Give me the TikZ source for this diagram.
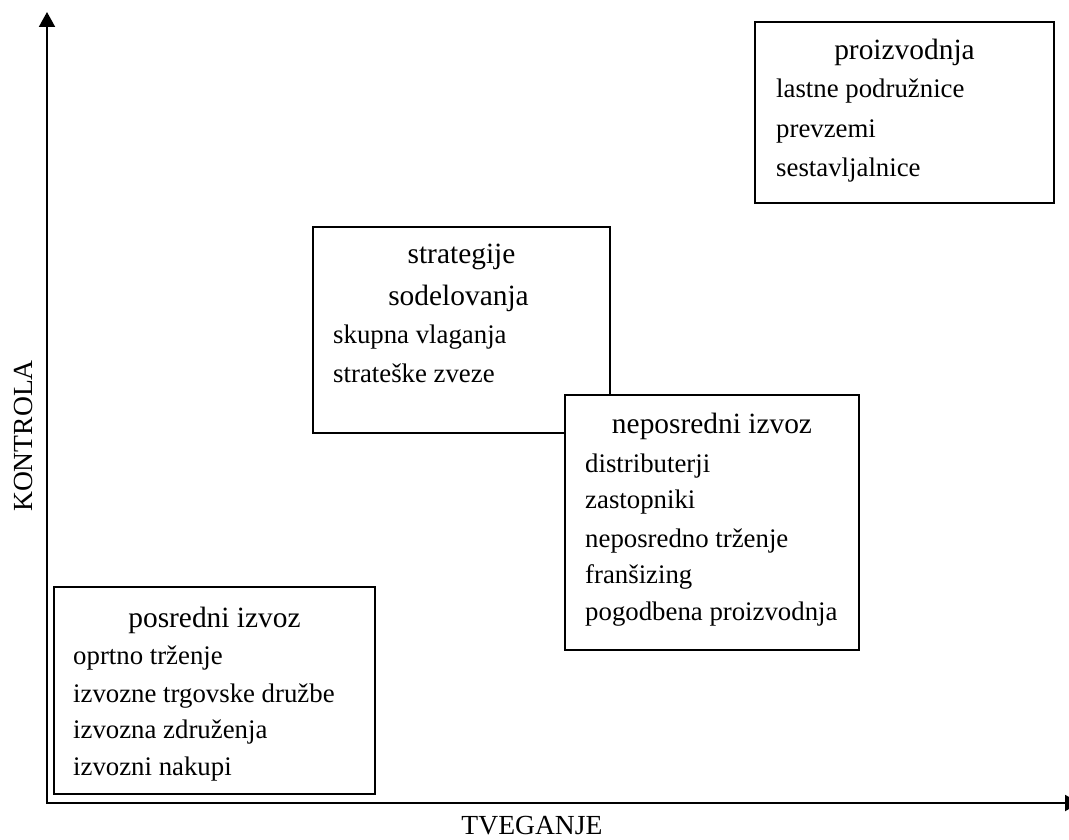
\documentclass[tikz,border=0pt]{standalone}
\usepackage{fontspec}
\setmainfont{Liberation Serif}
\usetikzlibrary{arrows.meta}
\begin{document}
\begin{tikzpicture}[x=1pt,y=-1pt,
  box/.style={draw, line width=1.5pt, fill=white, outer sep=0pt, inner sep=0pt, anchor=north west},
  ttl/.style={anchor=base, font=\fontsize{29.4}{36}\selectfont, inner sep=0pt},
  itm/.style={anchor=base west, font=\fontsize{26.8}{36}\selectfont, inner sep=0pt},
  axlab/.style={anchor=base, font=\fontsize{27.6}{30}\selectfont, inner sep=0pt},
  axis/.style={line width=2pt, {Triangle[length=15pt,width=16pt]}-{Triangle[length=15pt,width=16pt]}}]
\useasboundingbox (0,0) rectangle (1069,840);
% axes
\coordinate (o) at (47,803);
\coordinate (ytip) at (47,12);
\coordinate (xtip) at (1080,803);
\draw[axis] (ytip) -- (o) -- (xtip);
\node[axlab] (tv) at (532,834) {TVEGANJE};
\node[axlab, rotate=90] (ko) at (32,436) {KONTROLA};
% posredni izvoz
\node[box, minimum width=321pt, minimum height=207pt] (pos) at (54,587) {};
\node[ttl] (posT) at (214.5,627) {posredni izvoz};
\node[itm] (pos1) at (73,664) {oprtno trženje};
\node[itm] (pos2) at (73,702) {izvozne trgovske družbe};
\node[itm] (pos3) at (73,738) {izvozna združenja};
\node[itm] (pos4) at (73,775) {izvozni nakupi};
% strategije sodelovanja
\node[box, minimum width=297pt, minimum height=206pt] (str) at (313,227) {};
\node[ttl] (strT1) at (461.5,263) {strategije};
\node[ttl] (strT2) at (458.5,305) {sodelovanja};
\node[itm] (str1) at (333,343) {skupna vlaganja};
\node[itm] (str2) at (333,382) {strateške zveze};
% neposredni izvoz
\node[box, minimum width=294pt, minimum height=255pt] (nep) at (565,395) {};
\node[ttl] (nepT) at (712,433) {neposredni izvoz};
\node[itm] (nep1) at (585,472) {distributerji};
\node[itm] (nep2) at (585,508) {zastopniki};
\node[itm] (nep3) at (585,547) {neposredno trženje};
\node[itm] (nep4) at (585,583) {franšizing};
\node[itm] (nep5) at (585,620) {pogodbena proizvodnja};
% proizvodnja
\node[box, minimum width=299pt, minimum height=181pt] (pro) at (755,22) {};
\node[ttl] (proT) at (904.5,60) {proizvodnja};
\node[itm] (pro1) at (776,98) {lastne podružnice};
\node[itm] (pro2) at (776,138) {prevzemi};
\node[itm] (pro3) at (776,177) {sestavljalnice};
\end{tikzpicture}
\end{document}
